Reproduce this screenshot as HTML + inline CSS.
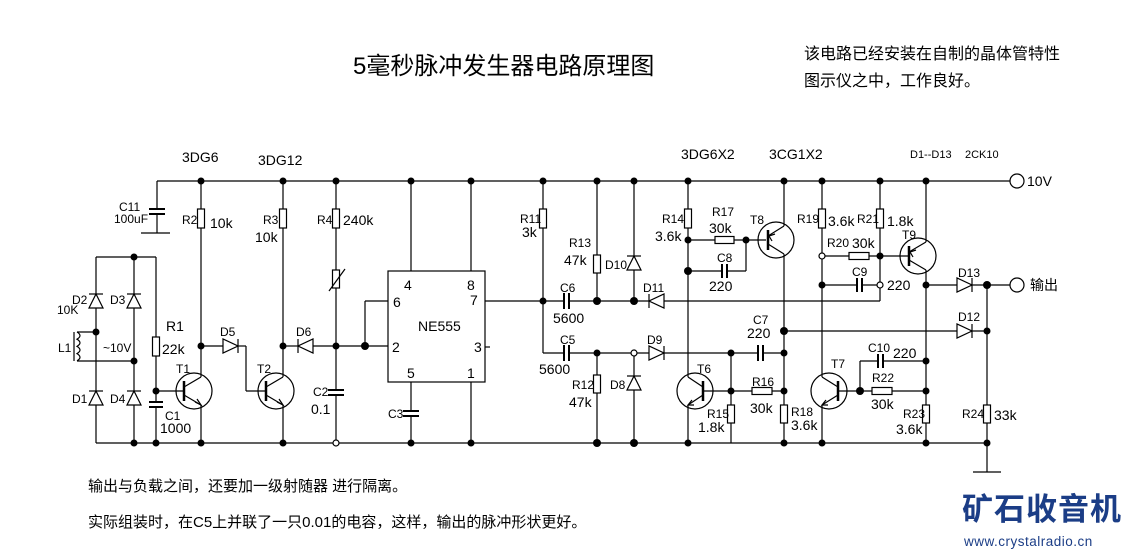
<!DOCTYPE html>
<html><head><meta charset="utf-8"><style>
html,body{margin:0;padding:0;background:#fff;}
svg{display:block;}
text{font-family:"Liberation Sans","Noto Sans CJK SC",sans-serif;fill:#000;}
.l{font-size:12px;}
.v{font-size:14px;}
.c{font-family:"Liberation Sans","Noto Sans CJK SC",sans-serif;}
</style></head><body>
<svg width="1129" height="551" viewBox="0 0 1129 551" xmlns="http://www.w3.org/2000/svg">
<g stroke="#000" stroke-width="1.2" fill="none">
<!-- rails -->
<line x1="157" y1="181" x2="1010" y2="181"/>
<line x1="96" y1="443" x2="987" y2="443"/>
<circle cx="1017" cy="181" r="7"/>
<!-- C11 -->
<line x1="157" y1="181" x2="157" y2="209"/><line x1="157" y1="214" x2="157" y2="233"/>
<line x1="149" y1="209" x2="165" y2="209" stroke-width="2"/><line x1="149" y1="214" x2="165" y2="214" stroke-width="2"/>
<line x1="141" y1="233" x2="170" y2="233"/>
<!-- bridge -->
<line x1="96" y1="257" x2="156" y2="257"/>
<line x1="96" y1="257" x2="96" y2="443"/>
<line x1="134" y1="257" x2="134" y2="443"/>
<line x1="96" y1="332" x2="77" y2="332"/><line x1="77" y1="361" x2="134" y2="361"/>
<line x1="74" y1="332" x2="74" y2="361"/>
<path d="M77 332 q6 3.6 0 7.2 q6 3.6 0 7.2 q6 3.6 0 7.2 q6 3.6 0 7.2"/>
<!-- R1 / C1 -->
<line x1="156" y1="257" x2="156" y2="443"/>
<line x1="156" y1="391" x2="184" y2="391"/>
<!-- T1 -->
<line x1="201" y1="181" x2="201" y2="377"/>
<line x1="201" y1="405" x2="201" y2="443"/>
<line x1="201" y1="346" x2="223" y2="346"/><line x1="238" y1="346" x2="246" y2="346"/>
<line x1="246" y1="346" x2="246" y2="391"/><line x1="246" y1="391" x2="266" y2="391"/>
<!-- T2 -->
<line x1="283" y1="181" x2="283" y2="377"/>
<line x1="283" y1="405" x2="283" y2="443"/>
<line x1="283" y1="346" x2="298" y2="346"/><line x1="313" y1="346" x2="388" y2="346"/>
<!-- R4 line -->
<line x1="336" y1="181" x2="336" y2="390"/><line x1="336" y1="395" x2="336" y2="443"/>
<line x1="365" y1="346" x2="365" y2="301"/><line x1="365" y1="301" x2="388" y2="301"/>
<!-- 555 -->
<rect x="388" y="271" width="97" height="111"/>
<line x1="411" y1="181" x2="411" y2="271"/><line x1="471" y1="181" x2="471" y2="271"/>
<line x1="411" y1="382" x2="411" y2="411"/><line x1="411" y1="416" x2="411" y2="443"/>
<line x1="471" y1="382" x2="471" y2="443"/>
<line x1="485" y1="347" x2="490" y2="347"/>
<line x1="485" y1="301" x2="564" y2="301"/>
<line x1="569" y1="301" x2="880" y2="301"/>
<line x1="880" y1="301" x2="880" y2="181"/>
<!-- R11 -->
<line x1="543" y1="181" x2="543" y2="353"/>
<line x1="543" y1="353" x2="564" y2="353"/><line x1="569" y1="353" x2="758" y2="353"/><line x1="763" y1="353" x2="784" y2="353"/>
<line x1="597" y1="181" x2="597" y2="301"/><line x1="634" y1="181" x2="634" y2="301"/>
<line x1="597" y1="353" x2="597" y2="443"/><line x1="634" y1="353" x2="634" y2="443"/>
<!-- T6 / R14 -->
<line x1="688" y1="181" x2="688" y2="377"/><line x1="688" y1="405" x2="688" y2="443"/>
<line x1="688" y1="240" x2="766" y2="240"/>
<line x1="688" y1="271" x2="746" y2="271"/><line x1="746" y1="271" x2="746" y2="240"/>
<line x1="703" y1="391" x2="784" y2="391"/>
<line x1="731" y1="353" x2="731" y2="443"/>
<!-- T8 col -->
<line x1="784" y1="181" x2="784" y2="226"/><line x1="784" y1="254" x2="784" y2="443"/>
<line x1="784" y1="331" x2="987" y2="331"/>
<!-- R19 / T7 -->
<line x1="822" y1="181" x2="822" y2="377"/><line x1="822" y1="405" x2="822" y2="443"/>
<line x1="822" y1="256" x2="909" y2="256"/>
<line x1="822" y1="285" x2="880" y2="285"/>
<!-- T9 -->
<line x1="926" y1="181" x2="926" y2="242"/><line x1="926" y1="270" x2="926" y2="443"/>
<line x1="926" y1="285" x2="1010" y2="285"/>
<circle cx="1017" cy="285" r="7"/>
<line x1="838" y1="391" x2="926" y2="391"/>
<line x1="860" y1="391" x2="860" y2="361"/><line x1="860" y1="361" x2="926" y2="361"/>
<line x1="987" y1="285" x2="987" y2="472"/>
<line x1="973" y1="472" x2="1001" y2="472"/>
</g>
<!-- caps (white gap + plates) -->
<g stroke="#000" stroke-width="2">
<rect x="149" y="403" width="14" height="4" fill="#fff" stroke="none"/>
<line x1="149" y1="402" x2="163" y2="402"/><line x1="149" y1="407" x2="163" y2="407"/>
<rect x="328" y="390" width="16" height="5" fill="#fff" stroke="none"/>
<line x1="328" y1="390" x2="344" y2="390"/><line x1="328" y1="395" x2="344" y2="395"/>
<line x1="403" y1="411" x2="419" y2="411"/><line x1="403" y1="416" x2="419" y2="416"/>
<line x1="564" y1="293" x2="564" y2="309"/><line x1="569" y1="293" x2="569" y2="309"/>
<line x1="564" y1="345" x2="564" y2="361"/><line x1="569" y1="345" x2="569" y2="361"/>
<rect x="722" y="264" width="5" height="14" fill="#fff" stroke="none"/>
<line x1="722" y1="264" x2="722" y2="278"/><line x1="727" y1="264" x2="727" y2="278"/>
<line x1="758" y1="345" x2="758" y2="361"/><line x1="763" y1="345" x2="763" y2="361"/>
<rect x="857" y="278" width="5" height="14" fill="#fff" stroke="none"/>
<line x1="857" y1="278" x2="857" y2="292"/><line x1="862" y1="278" x2="862" y2="292"/>
<rect x="878" y="354" width="5" height="14" fill="#fff" stroke="none"/>
<line x1="878" y1="354" x2="878" y2="368"/><line x1="883" y1="354" x2="883" y2="368"/>
</g>
<!-- resistors -->
<g stroke="#000" stroke-width="1.2" fill="#fff">
<rect x="152.5" y="337" width="7" height="19"/>
<rect x="197.5" y="209" width="7" height="19"/>
<rect x="279.5" y="209" width="7" height="19"/>
<rect x="332.5" y="209" width="7" height="19"/>
<rect x="332.5" y="270" width="7" height="18"/>
<rect x="539.5" y="209" width="7" height="19"/>
<rect x="593.5" y="255" width="7" height="18"/>
<rect x="593.5" y="375" width="7" height="18"/>
<rect x="684.5" y="209" width="7" height="19"/>
<rect x="715" y="236.5" width="19" height="7"/>
<rect x="727.5" y="405" width="7" height="18"/>
<rect x="752" y="387.5" width="20" height="7"/>
<rect x="780.5" y="405" width="7" height="18"/>
<rect x="818.5" y="209" width="7" height="19"/>
<rect x="876.5" y="209" width="7" height="19"/>
<rect x="849" y="252.5" width="20" height="7"/>
<rect x="872" y="387.5" width="20" height="7"/>
<rect x="922.5" y="405" width="7" height="18"/>
<rect x="983.5" y="405" width="7" height="18"/>
</g>
<line x1="329" y1="291" x2="345" y2="269" stroke="#000" stroke-width="1.2"/>
<!-- diodes -->
<g stroke="#000" stroke-width="1.2" fill="#fff">
<!-- up pointing vertical -->
<path d="M89 308 L103 308 L96 294 Z"/><line x1="89" y1="294" x2="103" y2="294"/>
<path d="M127 308 L141 308 L134 294 Z"/><line x1="127" y1="294" x2="141" y2="294"/>
<path d="M89 405 L103 405 L96 391 Z"/><line x1="89" y1="391" x2="103" y2="391"/>
<path d="M127 405 L141 405 L134 391 Z"/><line x1="127" y1="391" x2="141" y2="391"/>
<path d="M627 270 L641 270 L634 256 Z"/><line x1="627" y1="256" x2="641" y2="256"/>
<path d="M627 390 L641 390 L634 376 Z"/><line x1="627" y1="376" x2="641" y2="376"/>
<!-- right pointing -->
<path d="M223 339 L223 353 L238 346 Z"/><line x1="238" y1="339" x2="238" y2="353"/>
<path d="M649 346 L649 360 L664 353 Z"/><line x1="664" y1="346" x2="664" y2="360"/>
<path d="M957 278 L957 292 L972 285 Z"/><line x1="972" y1="278" x2="972" y2="292"/>
<path d="M957 324 L957 338 L972 331 Z"/><line x1="972" y1="324" x2="972" y2="338"/>
<!-- left pointing -->
<path d="M313 339 L313 353 L298 346 Z"/><line x1="298" y1="339" x2="298" y2="353"/>
<path d="M664 294 L664 308 L649 301 Z"/><line x1="649" y1="294" x2="649" y2="308"/>
</g>
<!-- transistors -->
<g stroke="#000" stroke-width="1.2" fill="none">
<circle cx="194" cy="391" r="18"/><line x1="184" y1="381" x2="184" y2="401" stroke-width="2.5"/>
<line x1="184" y1="387" x2="201" y2="377"/><line x1="184" y1="395" x2="201" y2="405"/>
<circle cx="276" cy="391" r="18"/><line x1="266" y1="381" x2="266" y2="401" stroke-width="2.5"/>
<line x1="266" y1="387" x2="283" y2="377"/><line x1="266" y1="395" x2="283" y2="405"/>
<circle cx="695" cy="391" r="18"/><line x1="703" y1="381" x2="703" y2="401" stroke-width="2.5"/>
<line x1="703" y1="387" x2="688" y2="377"/><line x1="703" y1="395" x2="688" y2="405"/>
<circle cx="776" cy="240" r="18"/><line x1="768" y1="230" x2="768" y2="250" stroke-width="2.5"/>
<line x1="768" y1="236" x2="784" y2="226"/><line x1="768" y1="244" x2="784" y2="254"/>
<circle cx="829" cy="391" r="18"/><line x1="838" y1="381" x2="838" y2="401" stroke-width="2.5"/>
<line x1="838" y1="387" x2="822" y2="377"/><line x1="838" y1="395" x2="822" y2="405"/>
<circle cx="918" cy="256" r="18"/><line x1="909" y1="246" x2="909" y2="266" stroke-width="2.5"/>
<line x1="909" y1="252" x2="926" y2="242"/><line x1="909" y1="260" x2="926" y2="270"/>
<!-- arrows -->
<path d="M195 402 L201 405 L197 399"/><path d="M277 402 L283 405 L279 399"/>
<path d="M694 405 L688 405 L692 400"/><path d="M828 405 L822 405 L826 400"/>
<path d="M775 234 L769 236 L772 241"/><path d="M916 250 L910 252 L913 257"/>
</g>
<!-- dots -->
<g fill="#000">
<circle cx="201" cy="181" r="3.5"/><circle cx="283" cy="181" r="3.5"/><circle cx="336" cy="181" r="3.5"/>
<circle cx="411" cy="181" r="3.5"/><circle cx="471" cy="181" r="3.5"/><circle cx="543" cy="181" r="3.5"/>
<circle cx="597" cy="181" r="3.5"/><circle cx="634" cy="181" r="3.5"/><circle cx="688" cy="181" r="3.5"/>
<circle cx="784" cy="181" r="3.5"/><circle cx="822" cy="181" r="3.5"/><circle cx="880" cy="181" r="3.5"/><circle cx="926" cy="181" r="3.5"/>
<circle cx="134" cy="257" r="3.5"/><circle cx="96" cy="332" r="3.5"/><circle cx="134" cy="361" r="3.5"/>
<circle cx="156" cy="391" r="3.5"/><circle cx="201" cy="346" r="3.5"/><circle cx="283" cy="346" r="3.5"/>
<circle cx="336" cy="346" r="3.5"/><circle cx="365" cy="346" r="4"/>
<circle cx="134" cy="443" r="3.5"/><circle cx="156" cy="443" r="3.5"/><circle cx="201" cy="443" r="3.5"/><circle cx="283" cy="443" r="3.5"/>
<circle cx="411" cy="443" r="3.5"/><circle cx="471" cy="443" r="3.5"/><circle cx="597" cy="443" r="4"/><circle cx="634" cy="443" r="4"/>
<circle cx="688" cy="443" r="3.5"/><circle cx="784" cy="443" r="3.5"/><circle cx="822" cy="443" r="3.5"/><circle cx="926" cy="443" r="3.5"/><circle cx="987" cy="443" r="3.5"/>
<circle cx="543" cy="301" r="3.5"/><circle cx="597" cy="301" r="4"/><circle cx="634" cy="301" r="4"/><circle cx="597" cy="353" r="3.5"/>
<circle cx="688" cy="240" r="3.5"/><circle cx="746" cy="240" r="3.5"/><circle cx="688" cy="271" r="4"/>
<circle cx="731" cy="353" r="3.5"/><circle cx="731" cy="391" r="3.5"/><circle cx="784" cy="331" r="4"/><circle cx="784" cy="353" r="3.5"/><circle cx="784" cy="391" r="3.5"/>
<circle cx="880" cy="256" r="3.5"/><circle cx="822" cy="285" r="3.5"/><circle cx="926" cy="285" r="3.5"/><circle cx="987" cy="285" r="4"/><circle cx="987" cy="331" r="3.5"/>
<circle cx="860" cy="391" r="4"/><circle cx="926" cy="361" r="3.5"/><circle cx="926" cy="391" r="3.5"/>
</g>
<g fill="#fff" stroke="#000" stroke-width="1.2">
<circle cx="336" cy="443" r="3"/><circle cx="634" cy="353" r="3"/><circle cx="822" cy="256" r="3"/><circle cx="880" cy="285" r="3"/>
</g>
<!-- text -->
<text x="353" y="74" style="font-size:24px">5毫秒脉冲发生器电路原理图</text>
<text x="804" y="59" style="font-size:16px">该电路已经安装在自制的晶体管特性</text>
<text x="804" y="86" style="font-size:16px">图示仪之中，工作良好。</text>
<text x="88" y="491" style="font-size:15px">输出与负载之间，还要加一级射随器 进行隔离。</text>
<text x="88" y="527" style="font-size:15px">实际组装时，在C5上并联了一只0.01的电容，这样，输出的脉冲形状更好。</text>
<g class="v">
<text x="182" y="162">3DG6</text><text x="258" y="165">3DG12</text>
<text x="681" y="159">3DG6X2</text><text x="769" y="159">3CG1X2</text>
<text x="1027" y="186">10V</text><text x="1030" y="290">输出</text>
</g>
<g class="l">
<text x="910" y="158" style="font-size:11px">D1--D13</text><text x="965" y="158" style="font-size:11px">2CK10</text>
<text x="119" y="211">C11</text><text x="114" y="223">100uF</text>
<text x="182" y="224">R2</text><text x="263" y="224">R3</text><text x="317" y="224">R4</text>
<text x="57" y="314">10K</text><text x="72" y="304">D2</text><text x="110" y="304">D3</text>
<text x="58" y="352">L1</text><text x="103" y="352">~10V</text>
<text x="72" y="403">D1</text><text x="110" y="403">D4</text>
<text x="165" y="420">C1</text><text x="220" y="336">D5</text><text x="176" y="373">T1</text>
<text x="296" y="336">D6</text><text x="257" y="373">T2</text><text x="313" y="396">C2</text>
<text x="388" y="418">C3</text>
<text x="520" y="223">R11</text><text x="569" y="247">R13</text><text x="605" y="269">D10</text>
<text x="560" y="292">C6</text><text x="643" y="292">D11</text><text x="560" y="344">C5</text><text x="647" y="344">D9</text>
<text x="572" y="389">R12</text><text x="610" y="389">D8</text>
<text x="662" y="223">R14</text><text x="712" y="216">R17</text><text x="750" y="224">T8</text><text x="717" y="262">C8</text>
<text x="753" y="324">C7</text><text x="697" y="373">T6</text><text x="707" y="418">R15</text><text x="752" y="386">R16</text><text x="791" y="416">R18</text>
<text x="797" y="223">R19</text><text x="857" y="223">R21</text><text x="827" y="247">R20</text><text x="902" y="239">T9</text>
<text x="852" y="276">C9</text><text x="958" y="277">D13</text><text x="958" y="321">D12</text>
<text x="868" y="352">C10</text><text x="831" y="368">T7</text><text x="872" y="382">R22</text><text x="903" y="418">R23</text><text x="962" y="418">R24</text>
</g>
<g class="v">
<text x="210" y="228">10k</text><text x="255" y="242">10k</text><text x="343" y="225">240k</text>
<text x="166" y="331">R1</text><text x="162" y="354">22k</text><text x="160" y="433">1000</text>
<text x="311" y="414">0.1</text>
<text x="404" y="290">4</text><text x="467" y="290">8</text><text x="393" y="307">6</text><text x="470" y="305">7</text>
<text x="418" y="331">NE555</text><text x="392" y="352">2</text><text x="474" y="352">3</text><text x="407" y="378">5</text><text x="467" y="378">1</text>
<text x="522" y="237">3k</text><text x="564" y="265">47k</text><text x="553" y="323">5600</text><text x="539" y="374">5600</text><text x="569" y="407">47k</text>
<text x="655" y="241">3.6k</text><text x="709" y="233">30k</text><text x="709" y="291">220</text><text x="747" y="338">220</text>
<text x="698" y="432">1.8k</text><text x="750" y="413">30k</text><text x="791" y="430">3.6k</text>
<text x="828" y="226">3.6k</text><text x="887" y="226">1.8k</text><text x="852" y="248">30k</text><text x="887" y="290">220</text>
<text x="893" y="358">220</text><text x="871" y="409">30k</text><text x="896" y="434">3.6k</text><text x="994" y="420">33k</text>
</g>
<text x="962" y="520" style="font-size:31px;font-weight:bold;fill:#1b3d86;letter-spacing:1px">矿石收音机</text>
<text x="964" y="546" style="font-size:13.5px;fill:#1b3d86;letter-spacing:0.5px">www.crystalradio.cn</text>
</svg>
</body></html>
